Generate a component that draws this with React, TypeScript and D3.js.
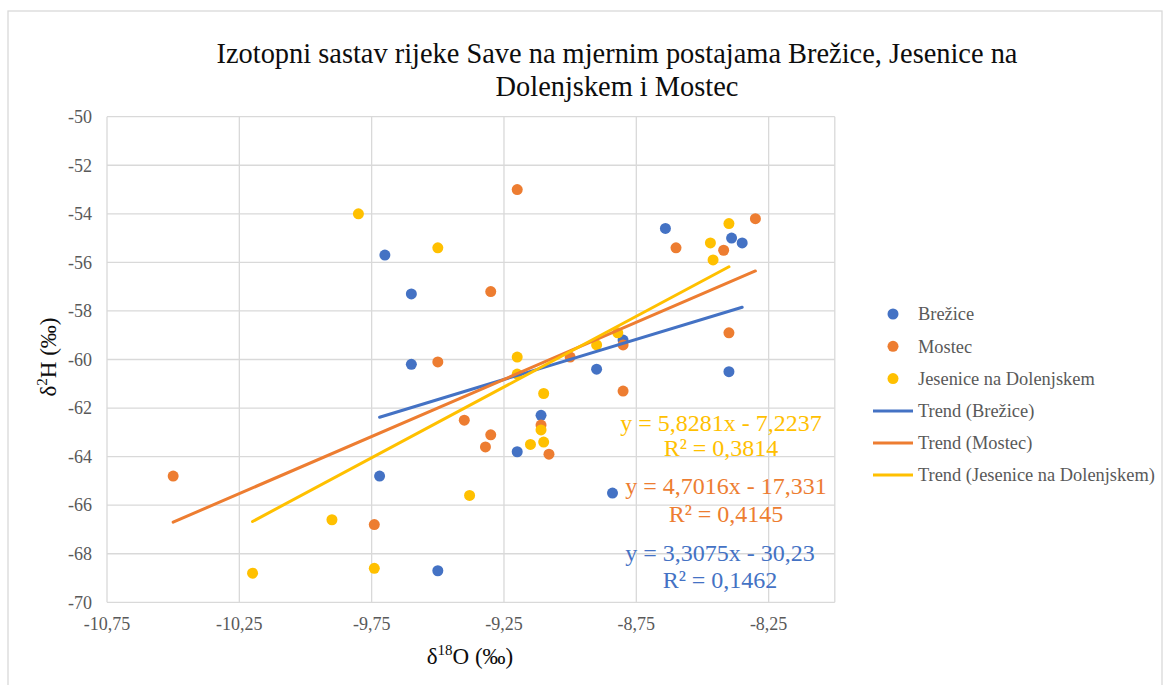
import React from 'react';
import * as d3 from 'd3';

// Brežice
const brezX = [-9.7, -9.6, -9.6, -9.72, -9.5, -8.64, -8.39, -8.35, -8.4, -8.9, -9.11, -9.2, -8.84, -8.8];
const brezY = [-55.7, -57.3, -60.2, -64.8, -68.7, -54.6, -55.0, -55.2, -60.5, -60.4, -62.3, -63.8, -65.5, -59.2];

// Mostec
const mostX = [-10.5, -9.2, -9.3, -9.5, -9.4, -9.3, -9.32, -9.74, -9.08, -9.11, -9.0, -8.8, -8.8, -8.6, -8.42, -8.3, -8.4];
const mostY = [-64.8, -53.0, -57.2, -60.1, -62.5, -63.1, -63.6, -66.8, -63.9, -62.7, -59.9, -59.4, -61.3, -55.4, -55.5, -54.2, -58.9];

// Jesenice na Dolenjskem
const jesX = [-9.8, -9.5, -9.2, -9.2, -9.1, -9.11, -9.1, -9.15, -9.38, -9.9, -9.74, -10.2, -8.82, -8.9, -8.47, -8.46, -8.4];
const jesY = [-54.0, -55.4, -59.9, -60.6, -61.4, -62.9, -63.4, -63.5, -65.6, -66.6, -68.6, -68.8, -58.9, -59.4, -55.2, -55.9, -54.4];

const seriesNames = ['Brežice', 'Mostec', 'Jesenice na Dolenjskem'];
const seriesColors = ['#4472C4', '#ED7D31', '#FFC000'];
const slopes = [3.3075, 4.7016, 5.8281];
const intercepts = [-30.23, -17.331, -7.2237];
const eqLines = [
  ['y = 3,3075x - 30,23', 'R² = 0,1462'],
  ['y = 4,7016x - 17,331', 'R² = 0,4145'],
  ['y = 5,8281x - 7,2237', 'R² = 0,3814'],
];

const xTicks = [-10.75, -10.25, -9.75, -9.25, -8.75, -8.25];
const yTicks = [-70, -68, -66, -64, -62, -60, -58, -56, -54, -52, -50];

const W = 1163;
const H = 685;
const serif = { fontFamily: 'Liberation Serif, Times New Roman, serif' };

export default function App() {
  const x = d3.scaleLinear().domain([-10.75, -8.0]).range([107, 834.8]);
  const y = d3.scaleLinear().domain([-70, -50]).range([602.3, 116.7]);
  const fmt = (v: number) => String(v).replace('.', ',');

  const xs = [brezX, mostX, jesX];
  const ys = [brezY, mostY, jesY];

  const line = d3
    .line<number[]>()
    .x(d => x(d[0]))
    .y(d => y(d[1]));

  // label anchor: centre x, baseline of line 1, baseline of line 2
  const eqPos = [
    [720, 561, 588],
    [726, 494, 522],
    [721, 431, 456],
  ];

  return (
    <svg width={W} height={H} style={{ position: 'absolute', left: 0, top: 0, background: '#fff', ...serif }}>
      <rect x={8} y={11} width={W - 9} height={H} fill="#fff" stroke="#d9d9d9" strokeWidth={1.3} />

      <text style={serif} textAnchor="middle" fontSize={28.4} fill="#0d0d0d">
        <tspan x={617} y={63}>Izotopni sastav rijeke Save na mjernim postajama Brežice, Jesenice na</tspan>
        <tspan x={617} y={96}>Dolenjskem i Mostec</tspan>
      </text>

      {/* grid */}
      {yTicks.map(t => (
        <line key={'gy' + t} x1={x(-10.75)} x2={x(-8.0)} y1={y(t)} y2={y(t)} stroke="#d9d9d9" strokeWidth={1.3} />
      ))}
      {xTicks.map(t => (
        <line key={'gx' + t} x1={x(t)} x2={x(t)} y1={y(-70)} y2={y(-50)} stroke="#d9d9d9" strokeWidth={1.3} />
      ))}
      <line x1={x(-8.0)} x2={x(-8.0)} y1={y(-70)} y2={y(-50)} stroke="#d9d9d9" strokeWidth={1.3} />

      {/* tick labels */}
      {yTicks.map(t => (
        <text key={'ly' + t} style={serif} x={92} y={y(t)} dy="0.35em" textAnchor="end" fontSize={18} fill="#595959">
          {fmt(t)}
        </text>
      ))}
      {xTicks.map(t => (
        <text key={'lx' + t} style={serif} x={x(t)} y={630} textAnchor="middle" fontSize={18} fill="#595959">
          {fmt(t)}
        </text>
      ))}

      {/* axis titles */}
      <text style={serif} x={470} y={664} textAnchor="middle" fontSize={23} fill="#0d0d0d">
        δ<tspan dy={-9} fontSize={15}>18</tspan>
        <tspan dy={9}>O (‰)</tspan>
      </text>
      <text style={serif} transform="translate(56,357) rotate(-90)" textAnchor="middle" fontSize={23} fill="#0d0d0d">
        δ<tspan dy={-9} fontSize={15}>2</tspan>
        <tspan dy={9}>H (‰)</tspan>
      </text>

      {/* markers */}
      {xs.map((sx, si) =>
        sx.map((v, i) => (
          <circle key={`p${si}-${i}`} cx={x(v)} cy={y(ys[si][i])} r={5.5} fill={seriesColors[si]} />
        ))
      )}

      {/* trend lines over each series' x range */}
      {xs.map((sx, si) => {
        const lo = d3.min(sx) as number;
        const hi = d3.max(sx) as number;
        const pts = [lo, hi].map(v => [v, slopes[si] * v + intercepts[si]]);
        return (
          <path key={'t' + si} d={line(pts) || ''} fill="none" stroke={seriesColors[si]} strokeWidth={3} strokeLinecap="round" />
        );
      })}

      {/* equations */}
      {eqLines.map((ln, si) => (
        <g key={'eq' + si} fill={seriesColors[si]} fontSize={24} textAnchor="middle">
          <text style={serif} x={eqPos[si][0]} y={eqPos[si][1]}>{ln[0]}</text>
          <text style={serif} x={eqPos[si][0]} y={eqPos[si][2]}>{ln[1]}</text>
        </g>
      ))}

      {/* legend */}
      {seriesNames.map((n, i) => (
        <g key={'lg' + i}>
          <circle cx={893} cy={314 + i * 32.3} r={5.5} fill={seriesColors[i]} />
          <text style={serif} x={918} y={314 + i * 32.3} dy="0.35em" fontSize={18.4} fill="#595959">{n}</text>
        </g>
      ))}
      {seriesNames.map((n, i) => (
        <g key={'lt' + i}>
          <line x1={873} x2={913} y1={411 + i * 32} y2={411 + i * 32} stroke={seriesColors[i]} strokeWidth={3} />
          <text style={serif} x={918} y={411 + i * 32} dy="0.35em" fontSize={18.4} fill="#595959">{`Trend (${n})`}</text>
        </g>
      ))}
    </svg>
  );
}
